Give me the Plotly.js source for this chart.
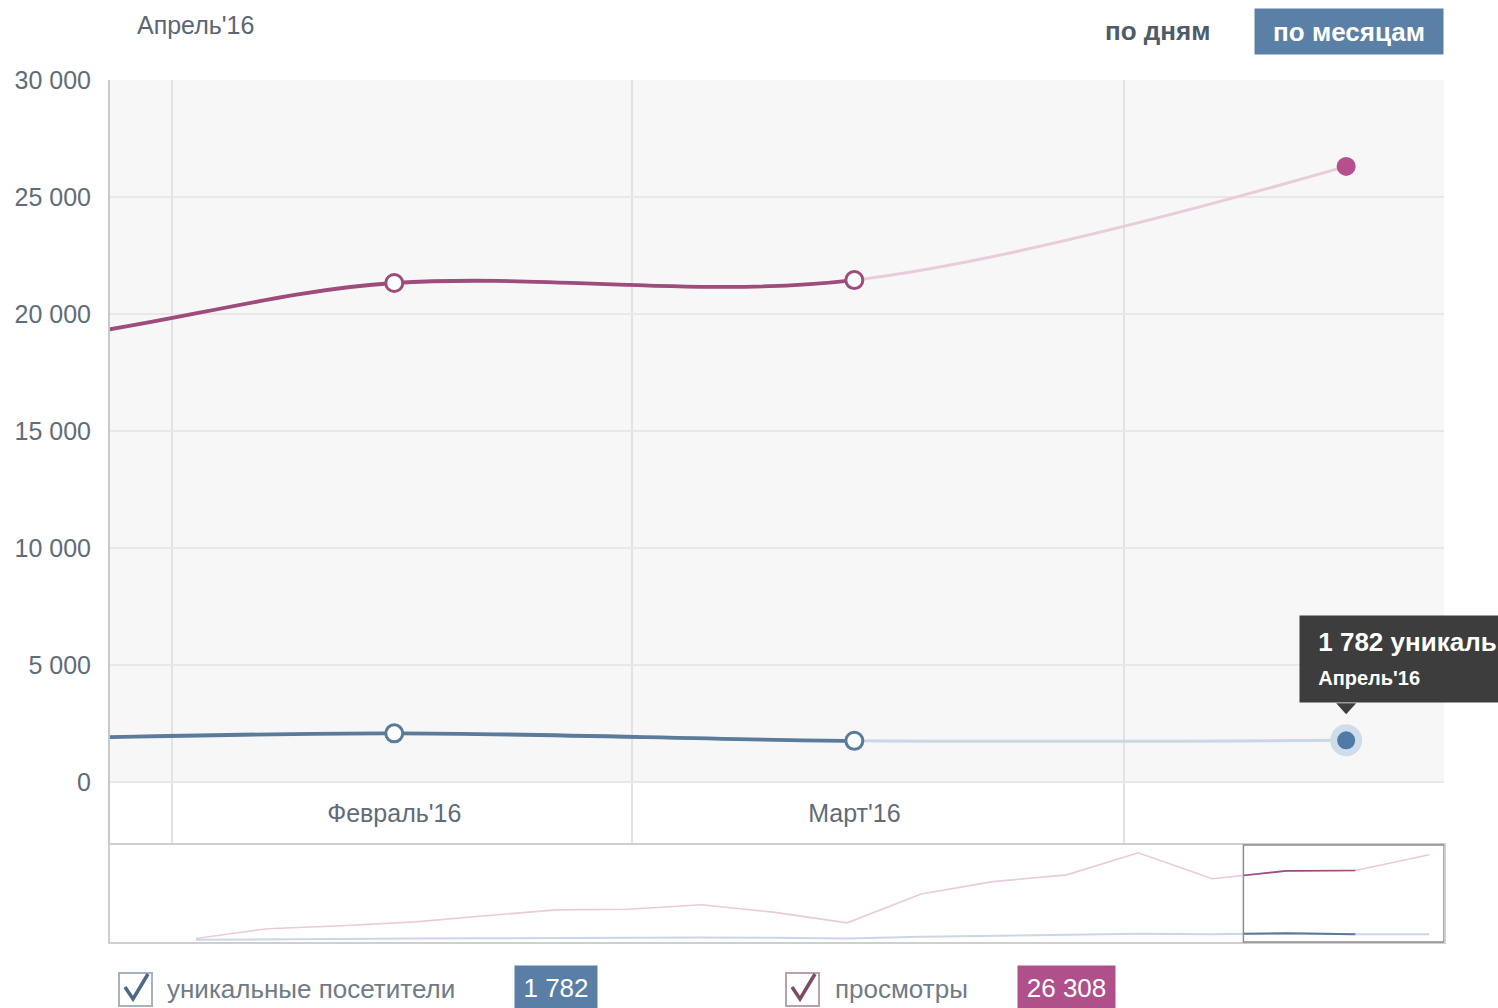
<!DOCTYPE html>
<html>
<head>
<meta charset="utf-8">
<script src="https://cdn.plot.ly/plotly-3.0.1.min.js"></script>
<style>html,body{margin:0;padding:0;background:#fff;}#chart{width:1498px;height:1008px;}</style>
</head>
<body>
<div id="chart"></div>
<script>
// ---- data ----
const months = ['2014-11-15','2014-12-15','2015-01-15','2015-02-15','2015-03-15','2015-04-15','2015-05-15','2015-06-15','2015-07-15','2015-08-15','2015-09-15','2015-10-15','2015-11-15','2015-12-15','2016-01-15','2016-02-15','2016-03-15','2016-04-15'];
const views   = [500, 3500, 4400, 5600, 7400, 9300, 9500, 10900, 8600, 5300, 14200, 18000, 20100, 26900, 18900, 21325, 21450, 26308];
const uniques = [60, 250, 380, 450, 560, 700, 720, 800, 700, 500, 1000, 1300, 1500, 1950, 1800, 2080, 1760, 1782];
const monthStarts = ['2016-02-01','2016-03-01','2016-04-01'];
const labelDates = ['2016-02-15','2016-03-15'];
const labelTexts = ["Февраль'16", "Март'16"];
const currentLabel = "Апрель'16";
const yTickVals = [0, 5000, 10000, 15000, 20000, 25000, 30000];
const yTickText = ['0', '5 000', '10 000', '15 000', '20 000', '25 000', '30 000'];
const seriesNames = ['уникальные посетители', 'просмотры'];
const mainRange = ['2016-01-28 02:00', '2016-04-21 04:00'];
const navRange = ['2014-10-10 00:00', '2016-04-21 04:00'];

// ---- helpers ----
const W = 1498, H = 1008;
const px = x => x / W, py = y => 1 - y / H;
const fmt = n => String(n).replace(/\B(?=(\d{3})+(?!\d))/g, ' ');
const last = months.length - 1;
const iMar = last - 1;
const FONT = 'Liberation Sans, Arial, sans-serif';

const xDom = [px(110), px(1444)];
const mainYDom = [py(843), py(80)];
const navYDom = [py(942), py(845)];
const yBottom = -(843 - 782) / (782 - 80) * 30000;

const t = s => {
  const [d, h] = s.split(' ');
  return new Date(d + 'T' + (h ? h + ':00' : '00:00:00') + 'Z').getTime();
};
const iso = ms => new Date(ms).toISOString().replace('T', ' ').slice(0, 19);

// window domain on navigator (derived from the main range)
const navSpan = t(navRange[1]) - t(navRange[0]);
const winDom = [
  xDom[0] + (t(mainRange[0]) - t(navRange[0])) / navSpan * (xDom[1] - xDom[0]),
  xDom[0] + (t(mainRange[1]) - t(navRange[0])) / navSpan * (xDom[1] - xDom[0])
];
// clip axis for the completed part (up to the last complete month point)
const mainSpan = t(mainRange[1]) - t(mainRange[0]);
const cutMs = t(months[iMar]) + 3600 * 1000;
const cutDom = [xDom[0], xDom[0] + (cutMs - t(mainRange[0])) / mainSpan * (xDom[1] - xDom[0])];
const cutRange = [mainRange[0], iso(cutMs)];

const C = {
  vDark: '#9e4c7b', vLight: '#e9cbda', vDot: '#b5508f',
  uDark: '#5b7b9b', uLight: '#cbd7e4', uDot: '#4f7aa5', uHalo: '#cfdcea'
};
const upToMar = arr => arr.slice(0, iMar + 1);

const traces = [
  // main: light full lines
  {x: months, y: views, xaxis: 'x', yaxis: 'y', mode: 'lines', line: {color: C.vLight, width: 3, shape: 'spline', smoothing: 1}, hoverinfo: 'skip'},
  {x: months, y: uniques, xaxis: 'x', yaxis: 'y', mode: 'lines', line: {color: C.uLight, width: 3, shape: 'spline', smoothing: 1}, hoverinfo: 'skip'},
  // current month points
  {x: [months[last]], y: [views[last]], xaxis: 'x', yaxis: 'y', mode: 'markers', marker: {size: 19, color: C.vDot}, hoverinfo: 'skip'},
  {x: [months[last]], y: [uniques[last]], xaxis: 'x', yaxis: 'y', mode: 'markers', marker: {size: 32, color: C.uHalo}, hoverinfo: 'skip'},
  {x: [months[last]], y: [uniques[last]], xaxis: 'x', yaxis: 'y', mode: 'markers', marker: {size: 18, color: C.uDot}, hoverinfo: 'skip'},
  // main: dark lines, same full spline clipped at the last complete month
  {x: months, y: views, xaxis: 'x5', yaxis: 'y', mode: 'lines', line: {color: C.vDark, width: 3.8, shape: 'spline', smoothing: 1}, hoverinfo: 'skip'},
  {x: months, y: uniques, xaxis: 'x5', yaxis: 'y', mode: 'lines', line: {color: C.uDark, width: 3.8, shape: 'spline', smoothing: 1}, hoverinfo: 'skip'},
  // open markers of complete months
  {x: upToMar(months), y: upToMar(views), xaxis: 'x5', yaxis: 'y', mode: 'markers', cliponaxis: false,
   marker: {size: 17, color: '#ffffff', line: {color: C.vDark, width: 3}}, hoverinfo: 'skip'},
  {x: upToMar(months), y: upToMar(uniques), xaxis: 'x5', yaxis: 'y', mode: 'markers', cliponaxis: false,
   marker: {size: 17, color: '#ffffff', line: {color: C.uDark, width: 3}}, hoverinfo: 'skip'},
  // navigator light
  {x: months, y: views, xaxis: 'x2', yaxis: 'y2', mode: 'lines', line: {color: C.vLight, width: 1.6}, hoverinfo: 'skip'},
  {x: months, y: uniques, xaxis: 'x2', yaxis: 'y2', mode: 'lines', line: {color: C.uLight, width: 2}, hoverinfo: 'skip'},
  // navigator dark (clipped to the window, up to the last complete month)
  {x: upToMar(months), y: upToMar(views), xaxis: 'x4', yaxis: 'y4', mode: 'lines', line: {color: C.vDark, width: 1.6}, hoverinfo: 'skip'},
  {x: upToMar(months), y: upToMar(uniques), xaxis: 'x4', yaxis: 'y4', mode: 'lines', line: {color: C.uDark, width: 2}, hoverinfo: 'skip'}
];

const navY = [-600, 29300];

const shapes = [
  // grey plot background above zero
  {type: 'rect', layer: 'below', xref: 'x domain', yref: 'y', x0: 0, x1: 1, y0: 0, y1: 30000, fillcolor: '#f7f7f7', line: {width: 0}},
  // navigator window
  {type: 'rect', xref: 'x2', yref: 'y2 domain', x0: mainRange[0], x1: mainRange[1], y0: 0, y1: 1, line: {color: '#8d8d8d', width: 1.5}, fillcolor: 'rgba(0,0,0,0)'},
  // tooltip pointer
  {type: 'path', xref: 'x', yref: 'y', xsizemode: 'pixel', ysizemode: 'pixel', xanchor: months[last], yanchor: uniques[last],
   path: 'M -10,37 L 10,37 L 0,26 Z', fillcolor: '#3d3d3d', line: {width: 0}},
  // checkboxes
  {type: 'rect', xref: 'paper', yref: 'paper', x0: px(119), x1: px(152), y0: py(1006), y1: py(973), fillcolor: '#fff', line: {color: '#a9b3be', width: 2}},
  {type: 'path', xref: 'paper', yref: 'paper', path: `M ${px(125)},${py(987)} L ${px(133)},${py(999)} L ${px(148)},${py(974)}`, line: {color: '#4e6984', width: 3.5}},
  {type: 'rect', xref: 'paper', yref: 'paper', x0: px(786), x1: px(819), y0: py(1006), y1: py(973), fillcolor: '#fff', line: {color: '#b6a3b0', width: 2}},
  {type: 'path', xref: 'paper', yref: 'paper', path: `M ${px(792)},${py(987)} L ${px(800)},${py(999)} L ${px(815)},${py(974)}`, line: {color: '#7b4b68', width: 3.5}}
];

const annotations = [
  {xref: 'paper', yref: 'paper', x: px(135), y: py(25), xanchor: 'left', yanchor: 'middle', showarrow: false,
   text: currentLabel, font: {family: FONT, size: 25, color: '#5b6672'}},
  {xref: 'paper', yref: 'paper', x: px(1157), y: py(31), xanchor: 'center', yanchor: 'middle', showarrow: false,
   text: '<b>по дням</b>', font: {family: FONT, size: 26, color: '#4f5b68'}},
  {xref: 'paper', yref: 'paper', x: px(1349), y: py(31), xanchor: 'center', yanchor: 'middle', showarrow: false,
   text: '<b>по месяцам</b>', font: {family: FONT, size: 26, color: '#ffffff'}, bgcolor: '#5b80a8', width: 180, height: 37, borderpad: 4},
  // tooltip
  {xref: 'x', yref: 'y', x: months[last], y: uniques[last], xanchor: 'left', yanchor: 'bottom', xshift: -47, yshift: 37, showarrow: false, align: 'left',
   bgcolor: '#3d3d3d', borderpad: 11,
   text: '&nbsp;<b>' + fmt(uniques[last]) + ' уникальных посетителей</b><br>&nbsp;<span style="font-size:20px"><b>' + currentLabel + '</b></span>',
   font: {family: FONT, size: 26, color: '#ffffff'}},
  // legend
  {xref: 'paper', yref: 'paper', x: px(165), y: py(989), xanchor: 'left', yanchor: 'middle', showarrow: false,
   text: seriesNames[0], font: {family: FONT, size: 26, color: '#6f7b87'}},
  {xref: 'paper', yref: 'paper', x: px(556), y: py(988), xanchor: 'center', yanchor: 'middle', showarrow: false,
   text: fmt(uniques[last]), font: {family: FONT, size: 26, color: '#ffffff'}, bgcolor: '#5a7fa7', width: 74, height: 36, borderpad: 4},
  {xref: 'paper', yref: 'paper', x: px(833), y: py(989), xanchor: 'left', yanchor: 'middle', showarrow: false,
   text: seriesNames[1], font: {family: FONT, size: 26, color: '#6f7b87'}},
  {xref: 'paper', yref: 'paper', x: px(1066), y: py(988), xanchor: 'center', yanchor: 'middle', showarrow: false,
   text: fmt(views[last]), font: {family: FONT, size: 26, color: '#ffffff'}, bgcolor: '#b0508a', width: 89, height: 36, borderpad: 4}
];

const layout = {
  width: W, height: H,
  margin: {l: 0, r: 0, t: 0, b: 0},
  paper_bgcolor: '#ffffff', plot_bgcolor: 'rgba(0,0,0,0)',
  showlegend: false,
  font: {family: FONT},
  xaxis: {domain: xDom, anchor: 'y', type: 'date', range: mainRange, tickmode: 'array', tickvals: labelDates, ticktext: labelTexts,
          ticklabelposition: 'inside', ticklabelstandoff: 18, showgrid: false, ticks: '', zeroline: false,
          tickfont: {family: FONT, size: 25, color: '#5f6c79'},
          minor: {tickmode: 'array', tickvals: monthStarts, showgrid: true, gridcolor: '#dfe2e6', gridwidth: 1.5, ticks: ''},
          showline: true, linecolor: '#d3d3d3', linewidth: 2, fixedrange: true},
  yaxis: {domain: mainYDom, anchor: 'x', range: [yBottom, 30000], tickmode: 'array', tickvals: yTickVals, ticktext: yTickText,
          showgrid: true, gridcolor: '#e8e8e8', gridwidth: 1.5, zeroline: false, ticks: '', ticklabelstandoff: 12,
          showline: true, linecolor: '#c6c9cc', linewidth: 2, tickfont: {family: FONT, size: 25, color: '#5f6c79'}, fixedrange: true},
  xaxis5: {domain: cutDom, anchor: 'y', type: 'date', range: cutRange, visible: false, fixedrange: true},
  xaxis2: {domain: xDom, anchor: 'y2', type: 'date', range: navRange, showticklabels: false, showgrid: false, ticks: '', zeroline: false,
           showline: true, mirror: true, linecolor: '#cfcfcf', linewidth: 2, fixedrange: true},
  yaxis2: {domain: navYDom, anchor: 'x2', range: navY, showticklabels: false, showgrid: false, ticks: '', zeroline: false,
           showline: true, mirror: true, linecolor: '#cfcfcf', linewidth: 2, fixedrange: true},
  xaxis4: {domain: winDom, anchor: 'y4', type: 'date', range: mainRange, visible: false, fixedrange: true},
  yaxis4: {domain: navYDom, anchor: 'x4', range: navY, visible: false, fixedrange: true},
  shapes: shapes,
  annotations: annotations
};

Plotly.newPlot('chart', traces, layout, {staticPlot: true, displayModeBar: false});
</script>
</body>
</html>
